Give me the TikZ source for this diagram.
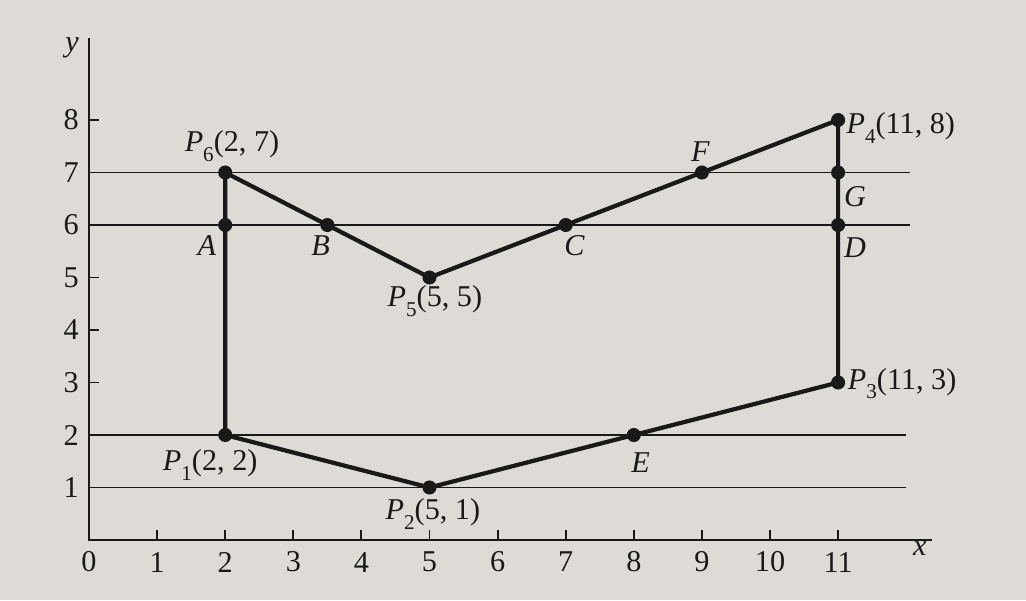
\documentclass[tikz,border=0pt]{standalone}
\usepackage{fontspec}
\setmainfont{Liberation Serif}
\definecolor{paper}{RGB}{222,219,214}
\definecolor{ink}{RGB}{25,25,25}
\newcommand\Pt[2]{\textit{P}\raisebox{-0.32em}{\fontsize{15}{15}\selectfont #1}(#2)}
\begin{document}
\begin{tikzpicture}[x=1.7025cm,y=1.3125cm,
  font=\fontsize{21.5}{25}\selectfont,
  axis/.style={draw=ink,line width=1.4pt},
  scan/.style={draw=ink,line width=0.9pt},
  edge/.style={draw=ink,line width=3pt,line join=round},
  dot/.style={circle,fill=ink,inner sep=0pt,minimum size=10pt},
  lab/.style={text=ink,inner sep=1pt}]
\useasboundingbox[fill=paper] (-1.307,-1.143) rectangle (13.759,10.286);
% axes
\coordinate (O) at (0,0);
\coordinate (Ytop) at (0,9.56);
\coordinate (Xend) at (12.38,0);
\draw[axis] (Ytop) -- (O) -- (Xend);
\node[lab] (ylab) at (-0.25,9.37) {\textit{y}};
\node[lab] (xlab) at (12.2,-0.16) {\textit{x}};
\foreach \k in {1,...,8}{
  \draw[axis] (0,\k) -- (0.15,\k);
  \node[lab] (yt\k) at (-0.26,\k) {\k};
}
\foreach \k in {1,...,11}{
  \draw[axis] (\k,0) -- (\k,0.19);
  \node[lab] (xt\k) at (\k,-0.42) {\k};
}
\node[lab] (xt0) at (0,-0.42) {0};
% scan lines
\foreach \k/\e in {1/12.0,2/12.0,6/12.05,7/12.05}{
  \coordinate (sl\k) at (0,\k);
  \coordinate (sr\k) at (\e,\k);
  \draw[scan] (sl\k) -- (sr\k);
}
% polygon vertices
\coordinate (P1) at (2,2);
\coordinate (P2) at (5,1);
\coordinate (P3) at (11,3);
\coordinate (P4) at (11,8);
\coordinate (P5) at (5,5);
\coordinate (P6) at (2,7);
\draw[edge] (P1) -- (P2) -- (P3) -- (P4) -- (P5) -- (P6) -- cycle;
% intersection points
\coordinate (A) at (2,6);
\coordinate (B) at (3.5,6);
\coordinate (C) at (7,6);
\coordinate (D) at (11,6);
\coordinate (E) at (8,2);
\coordinate (F) at (9,7);
\coordinate (G) at (11,7);
\foreach \p in {P1,P2,P3,P4,P5,P6,A,B,C,D,E,F,G}{
  \node[dot] (d\p) at (\p) {};
}
% labels
\node[lab] (lP6) at (2.1,7.5) {\Pt{6}{2, 7}};
\node[lab] (lP5) at (5.08,4.55) {\Pt{5}{5, 5}};
\node[lab] (lP1) at (1.78,1.43) {\Pt{1}{2, 2}};
\node[lab] (lP2) at (5.05,0.5) {\Pt{2}{5, 1}};
\node[lab,anchor=west] (lP4) at (11.1,7.85) {\Pt{4}{11, 8}};
\node[lab,anchor=west] (lP3) at (11.12,2.98) {\Pt{3}{11, 3}};
\node[lab] (lA) at (1.73,5.6) {\textit{A}};
\node[lab] (lB) at (3.4,5.6) {\textit{B}};
\node[lab] (lC) at (7.13,5.6) {\textit{C}};
\node[lab] (lD) at (11.25,5.56) {\textit{D}};
\node[lab] (lG) at (11.25,6.55) {\textit{G}};
\node[lab] (lF) at (8.98,7.4) {\textit{F}};
\node[lab] (lE) at (8.1,1.47) {\textit{E}};
\end{tikzpicture}
\end{document}
